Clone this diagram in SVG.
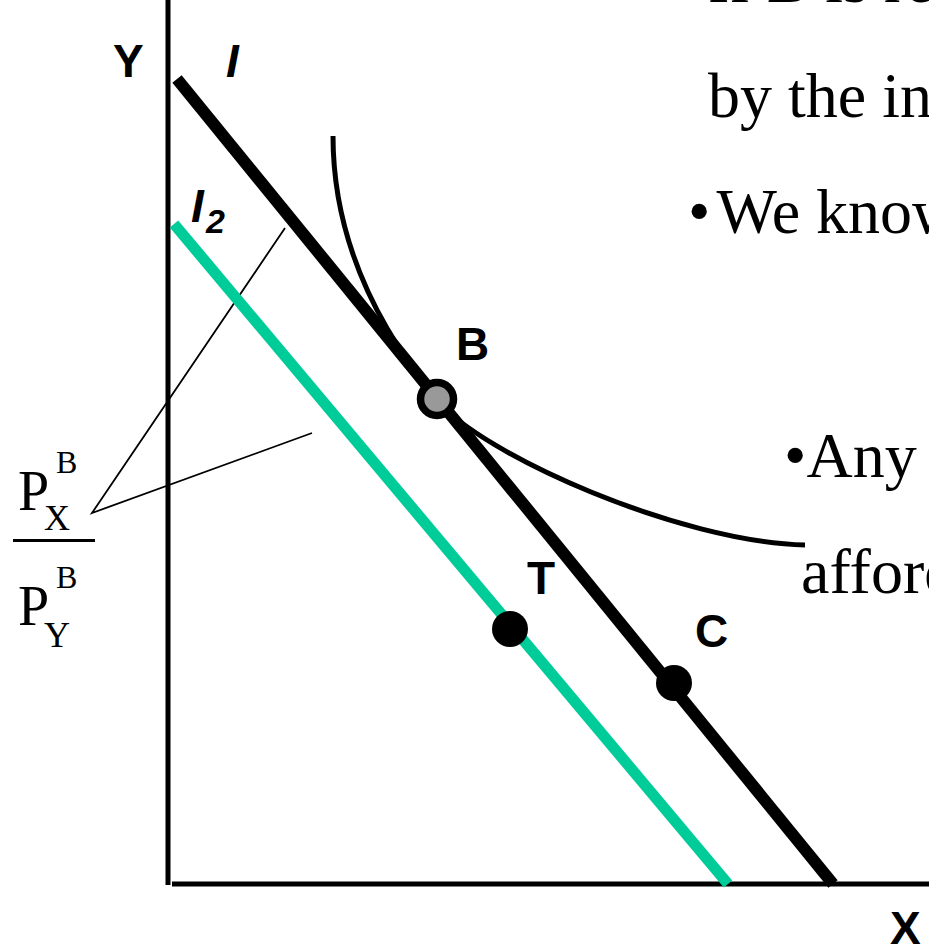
<svg xmlns="http://www.w3.org/2000/svg" width="929" height="949" viewBox="0 0 929 949">
<style>
.serif{font-family:"Liberation Serif","Times New Roman",serif;fill:#000}
.lbl{font-family:"Liberation Sans",Arial,sans-serif;font-weight:bold;fill:#000;font-size:46px}
.axis{stroke:#000;stroke-width:5;fill:none}
.thin{stroke:#000;stroke-width:1.8;fill:none}
</style>
<rect width="929" height="949" fill="#fff"/>
<g id="axes">
<line class="axis" x1="168" y1="0" x2="168" y2="885"/>
<line class="axis" x1="172" y1="884" x2="929" y2="884"/>
</g>
<g id="connectors">
<polyline class="thin" points="285,228 92,513 312,433"/>
</g>
<g id="budget-line-I2">
<line x1="174" y1="224" x2="728" y2="884" stroke="#00CC99" stroke-width="11"/>
</g>
<g id="budget-line-I">
<line x1="177" y1="79" x2="833" y2="884" stroke="#000" stroke-width="12"/>
</g>
<g id="indifference-curve">
<path d="M333,136 C333,250 387,339 437,400 C482,455 680,542 805,545" stroke="#000" stroke-width="5" fill="none"/>
</g>
<g id="point-B">
<circle cx="437" cy="399" r="16.5" fill="#999" stroke="#000" stroke-width="7.5"/>
<text class="lbl" x="456" y="360">B</text>
</g>
<g id="point-T">
<circle cx="510" cy="629" r="18" fill="#000"/>
<text class="lbl" x="527" y="594">T</text>
</g>
<g id="point-C">
<circle cx="674" cy="683" r="18" fill="#000"/>
<text class="lbl" x="695" y="647">C</text>
</g>
<g id="axis-labels">
<text class="lbl" x="113" y="77">Y</text>
<text class="lbl" x="890" y="944">X</text>
<text class="lbl" x="226" y="77" font-style="italic">I</text>
<text class="lbl" x="191" y="222" font-style="italic">I<tspan font-size="34" x="206" y="233">2</tspan></text>
</g>
<g id="slope-label">
<text class="serif" font-size="56" x="18" y="510">P<tspan font-size="32" x="56" y="473">B</tspan><tspan font-size="36" x="44" y="530">X</tspan></text>
<line x1="13" y1="540.5" x2="95" y2="540.5" stroke="#000" stroke-width="3"/>
<text class="serif" font-size="56" x="18" y="625">P<tspan font-size="32" x="56" y="588">B</tspan><tspan font-size="36" x="44" y="647">Y</tspan></text>
</g>
<g id="text-block" class="serif" font-size="64">
<text x="708" y="2">If B is re</text>
<text x="708" y="117">by the in</text>
<text x="688" y="233">•<tspan dx="6">We know</tspan></text>
<text x="784" y="477">•Any</text>
<text x="801" y="593">afford</text>
</g>
</svg>
